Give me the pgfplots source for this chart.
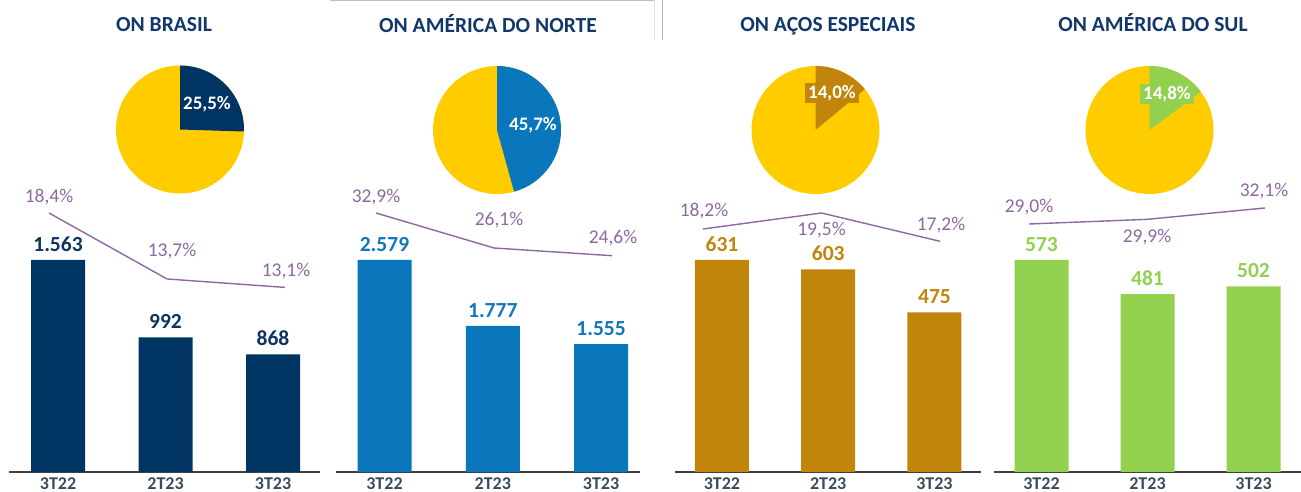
\documentclass[border=0pt]{standalone}
\usepackage{fontspec}
\setmainfont{Carlito}
\usepackage{pgfplots}
\pgfplotsset{compat=1.18}

\definecolor{cnavy}{HTML}{003462}
\definecolor{cnavyt}{HTML}{0E3561}
\definecolor{cblue}{HTML}{0A77BD}
\definecolor{cbluet}{HTML}{1276BA}
\definecolor{cbrown}{HTML}{C2850C}
\definecolor{cgreen}{HTML}{92D050}
\definecolor{cyellow}{HTML}{FFCC00}
\definecolor{cpurple}{HTML}{8E68A1}
\definecolor{ctitle}{HTML}{12386B}
\definecolor{ctick}{HTML}{3A4A5C}
\definecolor{caxis}{HTML}{404040}

\pgfplotsset{
  barax/.style={scale only axis, height=212pt, ymin=0, ybar, bar width=54pt,
    axis x line*=bottom, axis y line=none, ytick=\empty,
    xtick={0,1,2}, xticklabels={3T22,2T23,3T23}, clip=false,
    axis line style={caxis, line width=1.4pt},
    major tick length=7pt, tick align=inside, tick style={caxis, line width=1pt},
    xticklabel style={font=\fontsize{18}{20}\selectfont\bfseries, text=ctick, anchor=base, inner sep=0pt, yshift=-18pt},
    anchor=south west},
  lineax/.style={scale only axis, hide axis, xmin=0, xmax=2, clip=false, anchor=south west},
  pieax/.style={scale only axis, hide axis, xmin=-1, xmax=1, ymin=-1, ymax=1,
    width=128pt, height=128pt, anchor=center, clip=false},
}
\tikzset{
  ttl/.style={font=\fontsize{21.5}{24}\selectfont\bfseries, text=ctitle, anchor=base, inner sep=0pt},
  vlab/.style={font=\fontsize{21.5}{24}\selectfont\bfseries, anchor=base, inner sep=0pt, yshift=8.5pt},
  plab/.style={font=\fontsize{19.5}{22}\selectfont, text=cpurple, anchor=base, inner sep=0pt},
  pielab/.style={font=\fontsize{19}{22}\selectfont\bfseries, text=white, anchor=base, inner sep=0pt},
  piebox/.style={pielab, inner xsep=3pt, inner ysep=0pt, text height=16pt, text depth=4pt, minimum width=54pt},
}

\begin{document}
\begin{tikzpicture}
\path[use as bounding box] (0pt,0pt) rectangle (1301pt,492pt);
% decorative separators
\draw[black!25, line width=1.2pt] (330pt,491.4pt) -- (655pt,491.4pt);
\draw[black!12, line width=0.8pt] (654pt,492pt) -- (654pt,452pt);
\draw[black!30, line width=1pt] (662pt,492pt) -- (662pt,452pt);

% titles
\node[ttl] at (164pt,460pt) {ON BRASIL};
\node[ttl] at (488pt,459pt) {ON AMÉRICA DO NORTE};
\node[ttl] at (828pt,460pt) {ON AÇOS ESPECIAIS};
\node[ttl] at (1153pt,460pt) {ON AMÉRICA DO SUL};

% ---------------- Panel 1: Brasil
\begin{axis}[barax, at={(9pt,20pt)}, width=311pt, xmin=-0.456, xmax=2.437, ymax=1563]
\addplot[fill=cnavy, draw=none] coordinates {(0,1563) (1,992) (2,868)};
\node[vlab, text=cnavyt] at (axis cs:0,1563) {1.563};
\node[vlab, text=cnavyt] at (axis cs:1,992) {992};
\node[vlab, text=cnavyt] at (axis cs:2,868) {868};
\end{axis}
\begin{axis}[lineax, at={(49pt,204.6pt)}, width=236pt, height=74.4pt, ymin=13.1, ymax=18.4]
\addplot[cpurple, line width=1.4pt, mark=none] coordinates {(0,18.4) (1,13.7) (2,13.1)};
\node[plab, yshift=10pt] at (axis cs:0,18.4) {18,4\%};
\node[plab, yshift=22pt, xshift=5pt] at (axis cs:1,13.7) {13,7\%};
\node[plab, yshift=11pt, xshift=1pt] at (axis cs:2,13.1) {13,1\%};
\end{axis}
\begin{axis}[pieax, at={(180pt,362.5pt)}]
\addplot[fill=cyellow, draw=none, domain=0:360, samples=120] ({cos(x)},{sin(x)}) -- cycle;
\addplot[fill=cnavy, draw=none, domain=0:25.5, samples=40] ({sin(3.6*x)},{cos(3.6*x)}) -- (axis cs:0,0) -- cycle;
\end{axis}
\node[pielab] at (207pt,382pt) {25,5\%};

% ---------------- Panel 2: America do Norte
\begin{axis}[barax, at={(336pt,20pt)}, width=304pt, xmin=-0.448, xmax=2.360, ymax=2579]
\addplot[fill=cblue, draw=none] coordinates {(0,2579) (1,1777) (2,1555)};
\node[vlab, text=cbluet] at (axis cs:0,2579) {2.579};
\node[vlab, text=cbluet] at (axis cs:1,1777) {1.777};
\node[vlab, text=cbluet] at (axis cs:2,1555) {1.555};
\end{axis}
\begin{axis}[lineax, at={(376pt,236.3pt)}, width=236pt, height=42.7pt, ymin=24.6, ymax=32.9]
\addplot[cpurple, line width=1.4pt, mark=none] coordinates {(0,32.9) (1,26.1) (2,24.6)};
\node[plab, yshift=11pt] at (axis cs:0,32.9) {32,9\%};
\node[plab, yshift=22pt, xshift=5pt] at (axis cs:1,26.1) {26,1\%};
\node[plab, yshift=12pt, xshift=1pt] at (axis cs:2,24.6) {24,6\%};
\end{axis}
\begin{axis}[pieax, at={(497pt,362pt)}]
\addplot[fill=cyellow, draw=none, domain=0:360, samples=120] ({cos(x)},{sin(x)}) -- cycle;
\addplot[fill=cblue, draw=none, domain=0:45.7, samples=60] ({sin(3.6*x)},{cos(3.6*x)}) -- (axis cs:0,0) -- cycle;
\end{axis}
\node[pielab] at (533pt,361pt) {45,7\%};

% ---------------- Panel 3: Acos Especiais
\begin{axis}[barax, at={(675pt,20pt)}, width=306pt, xmin=-0.442, xmax=2.438, ymax=631]
\addplot[fill=cbrown, draw=none] coordinates {(0,631) (1,603) (2,475)};
\node[vlab, text=cbrown] at (axis cs:0,631) {631};
\node[vlab, text=cbrown] at (axis cs:1,603) {603};
\node[vlab, text=cbrown] at (axis cs:2,475) {475};
\end{axis}
\begin{axis}[lineax, at={(703pt,250.7pt)}, width=237pt, height=28.3pt, ymin=17.2, ymax=19.5]
\addplot[cpurple, line width=1.4pt, mark=none] coordinates {(0,18.2) (1,19.5) (2,17.2)};
\node[plab, yshift=12pt, xshift=1pt] at (axis cs:0,18.2) {18,2\%};
\node[plab, yshift=-23pt] at (axis cs:1,19.5) {19,5\%};
\node[plab, yshift=11pt, xshift=1pt] at (axis cs:2,17.2) {17,2\%};
\end{axis}
\begin{axis}[pieax, at={(815.5pt,362pt)}]
\addplot[fill=cyellow, draw=none, domain=0:360, samples=120] ({cos(x)},{sin(x)}) -- cycle;
\addplot[fill=cbrown, draw=none, domain=0:14.0, samples=30] ({sin(3.6*x)},{cos(3.6*x)}) -- (axis cs:0,0) -- cycle;
\end{axis}
\node[piebox, fill=cbrown] at (832pt,393pt) {14,0\%};

% ---------------- Panel 4: America do Sul
\begin{axis}[barax, at={(994pt,20pt)}, width=307pt, xmin=-0.448, xmax=2.448, ymax=573]
\addplot[fill=cgreen, draw=none] coordinates {(0,573) (1,481) (2,502)};
\node[vlab, text=cgreen] at (axis cs:0,573) {573};
\node[vlab, text=cgreen] at (axis cs:1,481) {481};
\node[vlab, text=cgreen] at (axis cs:2,502) {502};
\end{axis}
\begin{axis}[lineax, at={(1029pt,268pt)}, width=236pt, height=16pt, ymin=29.0, ymax=32.1]
\addplot[cpurple, line width=1.4pt, mark=none] coordinates {(0,29.0) (1,29.9) (2,32.1)};
\node[plab, yshift=11pt] at (axis cs:0,29.0) {29,0\%};
\node[plab, yshift=-23.6pt] at (axis cs:1,29.9) {29,9\%};
\node[plab, yshift=11pt, xshift=-1pt] at (axis cs:2,32.1) {32,1\%};
\end{axis}
\begin{axis}[pieax, at={(1149.5pt,362pt)}]
\addplot[fill=cyellow, draw=none, domain=0:360, samples=120] ({cos(x)},{sin(x)}) -- cycle;
\addplot[fill=cgreen, draw=none, domain=0:14.8, samples=30] ({sin(3.6*x)},{cos(3.6*x)}) -- (axis cs:0,0) -- cycle;
\end{axis}
\node[piebox, fill=cgreen] at (1167pt,392pt) {14,8\%};
\end{tikzpicture}
\end{document}
